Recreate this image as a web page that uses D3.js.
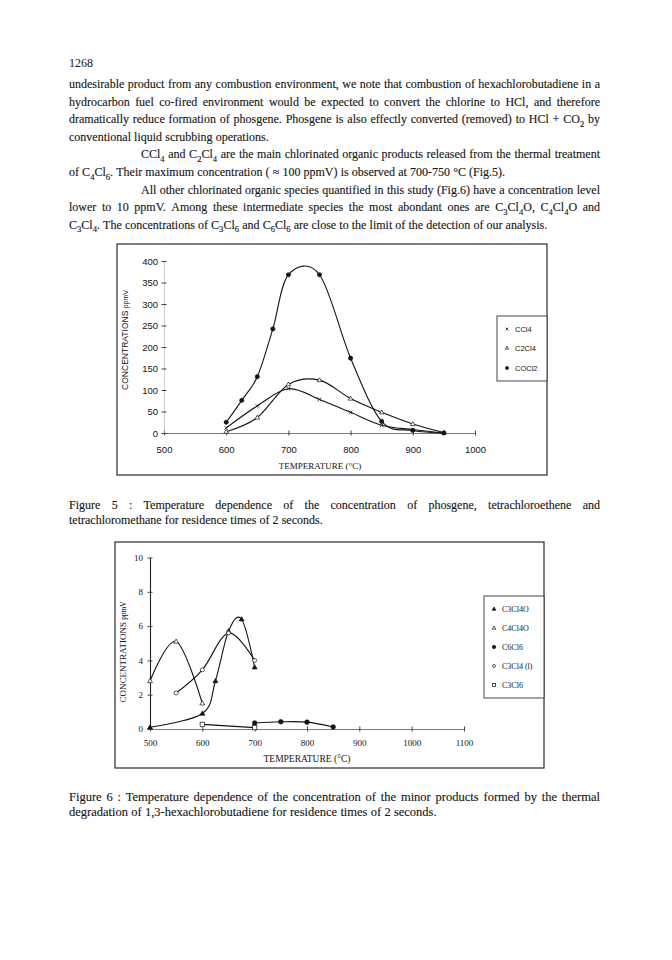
<!DOCTYPE html>
<html>
<head>
<meta charset="utf-8">
<script src="https://cdn.jsdelivr.net/npm/d3@7"></script>
<style>
  body { margin: 0; background: #fff; }
  svg { display: block; }
</style>
</head>
<body>
<svg id="page" width="672" height="960"></svg>
<script>
// ---------- page text ----------
var pageNumber = "1268";

// "_4" marks a subscript, j = justified, ind = indented first line
var bodyLines = [
    {t: "undesirable product from any combustion environment, we note that combustion of hexachlorobutadiene in a", j: true},
    {t: "hydrocarbon fuel co-fired environment would be expected to convert the chlorine to HCl, and therefore", j: true},
    {t: "dramatically reduce formation of phosgene. Phosgene is also effectly converted (removed) to HCl + CO_2 by", j: true},
    {t: "conventional liquid scrubbing operations.", j: false},
    {t: "CCl_4 and C_2Cl_4 are the main chlorinated organic products released from the thermal treatment", j: true, ind: true},
    {t: "of C_4Cl_6. Their maximum concentration ( \u2248 100 ppmV) is observed at 700-750 \u00b0C (Fig.5).", j: false},
    {t: "All other chlorinated organic species quantified in this study (Fig.6) have a concentration level", j: true, ind: true},
    {t: "lower to 10 ppmV. Among these intermediate species the most abondant ones are C_3Cl_4O, C_4Cl_4O and", j: true},
    {t: "C_3Cl_4. The concentrations of C_3Cl_6 and C_6Cl_6 are close to the limit of the detection of our analysis.", j: false}
];

var caption5 = [
    {t: "Figure 5 : Temperature dependence of the concentration of phosgene, tetrachloroethene and", j: true},
    {t: "tetrachloromethane for residence times of 2 seconds.", j: false}
];
var caption6 = [
    {t: "Figure 6 : Temperature dependence of the concentration of the minor products formed by the thermal", j: true},
    {t: "degradation of 1,3-hexachlorobutadiene for residence times of 2 seconds.", j: false}
];

// ---------- figure 5 data (temperature degC, ppmV) ----------
var fig5XTicks = [500, 600, 700, 800, 900, 1000];
var fig5YTicks = [0, 50, 100, 150, 200, 250, 300, 350, 400];
var fig5CCl4  = [[600, 12], [650, 63], [700, 103], [750, 78], [800, 48], [850, 18], [900, 8], [950, 0]];
var fig5C2Cl4 = [[600, 3], [650, 36], [700, 113], [750, 123], [800, 80], [850, 48], [900, 21], [950, 1]];
var fig5COCl2 = [[600, 25], [625, 76], [650, 131], [675, 242], [700, 368], [750, 368], [800, 174], [850, 27], [900, 6], [950, 0]];
var fig5Names = ["CCl4", "C2Cl4", "COCl2"];

// ---------- figure 6 data (temperature degC, ppmV) ----------
var fig6XTicks = [500, 600, 700, 800, 900, 1000, 1100];
var fig6YTicks = [0, 2, 4, 6, 8, 10];
var fig6C3Cl4O = [[500, 0.1], [600, 0.9], [625, 2.8], [650, 5.7], [675, 6.4], [700, 3.6]];
var fig6C4Cl4O = [[500, 2.8], [550, 5.1], [600, 1.5]];
var fig6C6Cl6  = [[700, 0.35], [750, 0.42], [800, 0.4], [850, 0.12]];
var fig6C3Cl4  = [[550, 2.1], [600, 3.45], [650, 5.6], [700, 4.0]];
var fig6C3Cl6  = [[600, 0.27], [700, 0.08]];
var fig6Names = ["C3Cl4O", "C4Cl4O", "C6Cl6", "C3Cl4 (l)", "C3Cl6"];

var INK = "#141414";
var SERIF = "'Liberation Serif', 'Times New Roman', serif";
var SANS = "'Liberation Sans', Arial, sans-serif";

var page = d3.select("#page");

// append text with "_n" subscripts as tspans
function richText(text, str, fs) {
    var parts = str.split(/_(\d+)/);
    var shift = fs * 0.3;
    var down = false;
    parts.forEach(function (p, i) {
        if (p === "") return;
        var isSub = i % 2 === 1;
        var ts = text.append("tspan").text(p);
        if (isSub) {
            ts.attr("font-size", fs * 0.72);
            if (!down) { ts.attr("dy", shift); down = true; }
        } else if (down) {
            ts.attr("dy", -shift);
            down = false;
        }
    });
}

// set one line, word by word, justified between x0 and x1 if asked
function setLine(g, line, x0, x1, y, fs) {
    var words = line.t.split(" ");
    var nodes = words.map(function (w) {
        var t = g.append("text")
            .attr("y", y)
            .attr("font-family", SERIF)
            .attr("font-size", fs)
            .attr("fill", INK)
            .attr("stroke", INK)
            .attr("stroke-width", 0.12);
        richText(t, w, fs);
        return t;
    });
    var widths = nodes.map(function (t) { return t.node().getComputedTextLength(); });
    var total = d3.sum(widths);
    var gap = line.j && words.length > 1 ? (x1 - x0 - total) / (words.length - 1) : fs * 0.26;
    var x = x0;
    nodes.forEach(function (t, i) {
        t.attr("x", x);
        x += widths[i] + gap;
    });
}

function paragraph(lines, x0, x1, y0, lead, fs, indent) {
    var g = page.append("g");
    lines.forEach(function (line, i) {
        setLine(g, line, line.ind ? x0 + indent : x0, x1, y0 + i * lead, fs);
    });
}

function marker(g, type, x, y, s) {
    if (type === "x") {
        g.append("path")
            .attr("d", "M" + (x - s) + "," + (y - s) + "L" + (x + s) + "," + (y + s) +
                       "M" + (x - s) + "," + (y + s) + "L" + (x + s) + "," + (y - s))
            .attr("stroke", INK).attr("stroke-width", 0.8);
    } else if (type === "tri" || type === "triF") {
        g.append("path")
            .attr("d", "M" + x + "," + (y - s) + "L" + (x + s * 0.95) + "," + (y + s * 0.65) +
                       "L" + (x - s * 0.95) + "," + (y + s * 0.65) + "Z")
            .attr("fill", type === "triF" ? INK : "#fff")
            .attr("stroke", INK).attr("stroke-width", 0.7);
    } else if (type === "dot" || type === "ring") {
        g.append("circle").attr("cx", x).attr("cy", y).attr("r", s)
            .attr("fill", type === "dot" ? INK : "#fff")
            .attr("stroke", INK).attr("stroke-width", 0.7);
    } else if (type === "sq") {
        g.append("rect").attr("x", x - s).attr("y", y - s).attr("width", 2 * s).attr("height", 2 * s)
            .attr("fill", "#fff").attr("stroke", INK).attr("stroke-width", 0.7);
    }
}

function chart(cfg) {
    var g = page.append("g");
    var x = d3.scaleLinear().domain(cfg.xDomain).range(cfg.xRange);
    var y = d3.scaleLinear().domain(cfg.yDomain).range(cfg.yRange);

    g.append("rect")
        .attr("x", cfg.box[0]).attr("y", cfg.box[1])
        .attr("width", cfg.box[2]).attr("height", cfg.box[3])
        .attr("fill", "none").attr("stroke", "#2a2a2a").attr("stroke-width", 1.2);

    var xAxis = g.append("g")
        .attr("transform", "translate(0," + y(0) + ")")
        .call(d3.axisBottom(x).tickValues(cfg.xTicks).tickFormat(d3.format("d"))
            .tickSizeInner(3).tickSizeOuter(0).tickPadding(cfg.xPad));
    xAxis.select(".domain").attr("stroke", "#555").attr("stroke-width", 0.8);
    xAxis.selectAll(".tick line").attr("y1", -2.5).attr("y2", 2.5).attr("stroke", "#444");
    xAxis.selectAll("text").attr("font-family", cfg.tickFont).attr("font-size", cfg.tickSize).attr("fill", INK);

    var yAxis = g.append("g")
        .attr("transform", "translate(" + x(cfg.xDomain[0]) + ",0)")
        .call(d3.axisLeft(y).tickValues(cfg.yTicks).tickFormat(d3.format("d"))
            .tickSizeInner(3).tickSizeOuter(0).tickPadding(cfg.yPad));
    yAxis.select(".domain").attr("stroke", cfg.yAxisColor).attr("stroke-width", cfg.yAxisWidth);
    yAxis.selectAll(".tick line").attr("x1", -2.5).attr("x2", 2.5).attr("stroke", "#444");
    yAxis.selectAll("text").attr("font-family", cfg.tickFont).attr("font-size", cfg.tickSize).attr("fill", INK);

    var line = d3.line()
        .x(function (d) { return x(d[0]); })
        .y(function (d) { return y(d[1]); })
        .curve(d3.curveCardinal.tension(0));

    cfg.series.forEach(function (s) {
        g.append("path").datum(s.data)
            .attr("d", line)
            .attr("fill", "none").attr("stroke", INK).attr("stroke-width", 1.1);
    });
    cfg.series.forEach(function (s) {
        s.data.forEach(function (d) { marker(g, s.mark, x(d[0]), y(d[1]), s.size); });
    });

    // axis titles
    var yt = g.append("text")
        .attr("transform", "translate(" + cfg.yTitlePos[0] + "," + cfg.yTitlePos[1] + ") rotate(-90)")
        .attr("text-anchor", "middle")
        .attr("font-family", cfg.yTitleFont).attr("font-size", cfg.yTitleSize).attr("fill", INK);
    yt.append("tspan").text("CONCENTRATIONS ");
    yt.append("tspan").attr("font-size", cfg.yTitleSize * 0.82).text("ppmV");

    g.append("text")
        .attr("x", cfg.xTitlePos[0]).attr("y", cfg.xTitlePos[1])
        .attr("text-anchor", "middle")
        .attr("font-family", SERIF).attr("font-size", cfg.xTitleSize).attr("fill", INK)
        .text("TEMPERATURE (\u00b0C)");

    // legend
    var lg = cfg.legend;
    g.append("rect")
        .attr("x", lg.box[0]).attr("y", lg.box[1]).attr("width", lg.box[2]).attr("height", lg.box[3])
        .attr("fill", "#fff").attr("stroke", "#333").attr("stroke-width", 0.9);
    cfg.series.forEach(function (s, i) {
        var yy = lg.rows[i];
        marker(g, s.mark, lg.markX, yy, s.size * 0.75);
        g.append("text")
            .attr("x", lg.textX).attr("y", yy).attr("dy", "0.35em")
            .attr("font-family", lg.font).attr("font-size", lg.size).attr("fill", INK)
            .text(s.name);
    });
}

// ---------- page ----------
page.append("text")
    .attr("x", 69).attr("y", 67)
    .attr("font-family", SERIF).attr("font-size", 12).attr("fill", INK)
    .text(pageNumber);

paragraph(bodyLines, 69, 600, 88, 17.6, 12, 72);

chart({
    box: [117, 244, 430, 231],
    xDomain: [500, 1000], xRange: [164, 475],
    yDomain: [0, 400], yRange: [433, 261],
    xTicks: fig5XTicks, yTicks: fig5YTicks,
    xPad: 10, yPad: 3,
    tickFont: SANS, tickSize: 9.5,
    yAxisColor: "#aaa", yAxisWidth: 0.6,
    yTitlePos: [128, 340], yTitleFont: SANS, yTitleSize: 8.5,
    xTitlePos: [320, 469], xTitleSize: 9,
    series: [
        {name: fig5Names[0], data: fig5CCl4, mark: "x", size: 1.8},
        {name: fig5Names[1], data: fig5C2Cl4, mark: "tri", size: 2.4},
        {name: fig5Names[2], data: fig5COCl2, mark: "dot", size: 2.1}
    ],
    legend: {box: [497, 316, 50, 65], rows: [329, 348, 368], markX: 507, textX: 515, font: SANS, size: 7.5}
});

paragraph(caption5, 69, 600, 509, 15, 12, 0);

chart({
    box: [115, 542, 429, 226],
    xDomain: [500, 1100], xRange: [150, 464],
    yDomain: [0, 10], yRange: [729, 557.5],
    xTicks: fig6XTicks, yTicks: fig6YTicks,
    xPad: 8, yPad: 4,
    tickFont: SERIF, tickSize: 9,
    yAxisColor: "#222", yAxisWidth: 1.1,
    yTitlePos: [126, 652], yTitleFont: SERIF, yTitleSize: 9,
    xTitlePos: [307, 762], xTitleSize: 9.5,
    series: [
        {name: fig6Names[0], data: fig6C3Cl4O, mark: "triF", size: 2.6},
        {name: fig6Names[1], data: fig6C4Cl4O, mark: "tri", size: 2.6},
        {name: fig6Names[2], data: fig6C6Cl6, mark: "dot", size: 2.3},
        {name: fig6Names[3], data: fig6C3Cl4, mark: "ring", size: 2},
        {name: fig6Names[4], data: fig6C3Cl6, mark: "sq", size: 2.2}
    ],
    legend: {box: [484, 596, 60, 102], rows: [609, 628, 647, 666, 685], markX: 494, textX: 502, font: SERIF, size: 8}
});

paragraph(caption6, 69, 600, 801, 15, 12.5, 0);
</script>
</body>
</html>
